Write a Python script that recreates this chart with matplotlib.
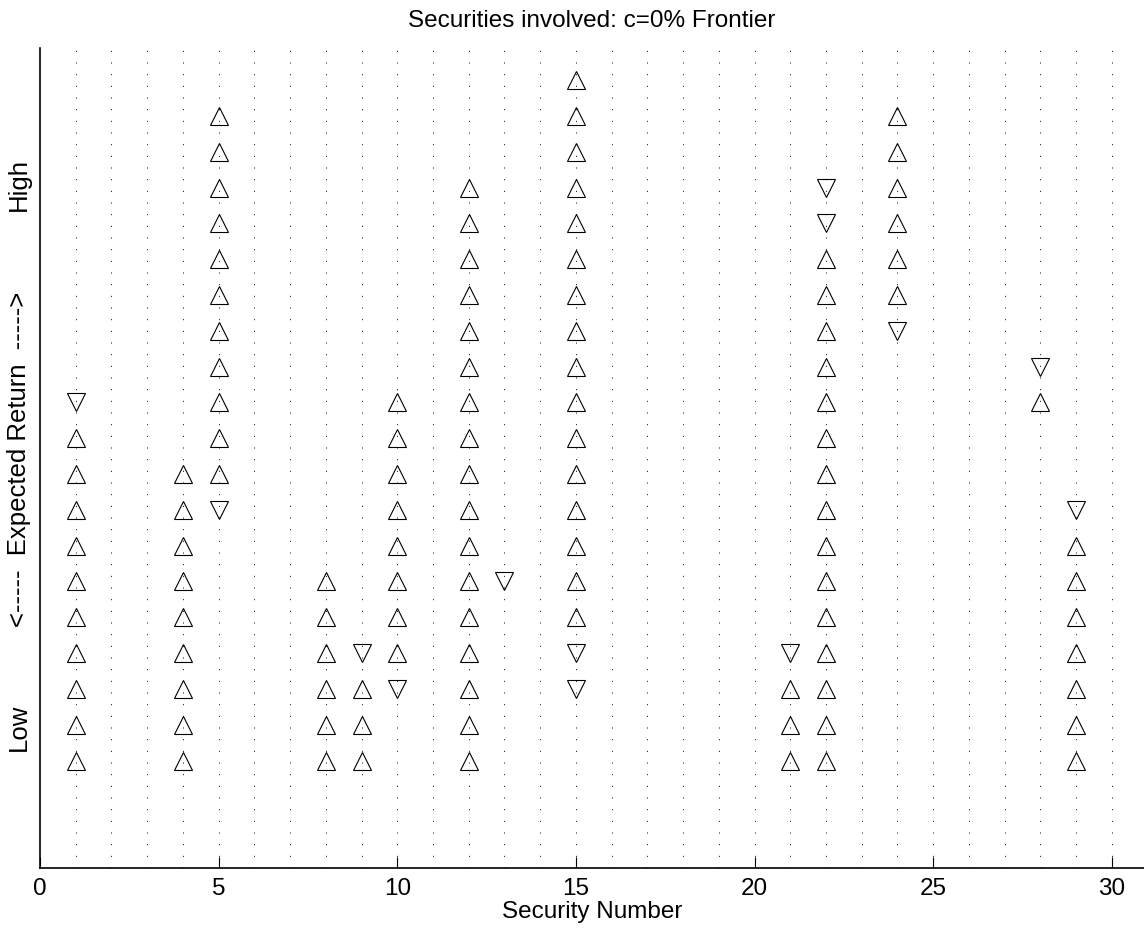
import matplotlib
matplotlib.use("Agg")
import matplotlib.pyplot as plt

# security numbers that appear on the frontier
securities = [1, 4, 5, 8, 9, 10, 12, 13, 15, 21, 22, 24, 28, 29]

# return levels (row index) where the weight is increasing / decreasing
up_levels = [
    [1, 2, 3, 4, 5, 6, 7, 8, 9, 10],
    [1, 2, 3, 4, 5, 6, 7, 8, 9],
    [9, 10, 11, 12, 13, 14, 15, 16, 17, 18, 19],
    [1, 2, 3, 4, 5, 6],
    [1, 2, 3],
    [4, 5, 6, 7, 8, 9, 10, 11],
    [1, 2, 3, 4, 5, 6, 7, 8, 9, 10, 11, 12, 13, 14, 15, 16, 17],
    [],
    [5, 6, 7, 8, 9, 10, 11, 12, 13, 14, 15, 16, 17, 18, 19, 20],
    [1, 2, 3],
    [1, 2, 3, 4, 5, 6, 7, 8, 9, 10, 11, 12, 13, 14, 15],
    [14, 15, 16, 17, 18, 19],
    [11],
    [1, 2, 3, 4, 5, 6, 7],
]
down_levels = [
    [11],
    [],
    [8],
    [],
    [4],
    [3],
    [],
    [6],
    [3, 4],
    [4],
    [16, 17],
    [13],
    [12],
    [8],
]

n_securities = 30
xticks = [0, 5, 10, 15, 20, 25, 30]

plt.rcParams['font.family'] = ['Liberation Sans', 'DejaVu Sans']

fig = plt.figure(figsize=(11.44, 9.35), dpi=100)
ax = fig.add_axes([0.035, 0.0717, 0.965, 0.877])

# dotted guide line for every security
for i in range(1, n_securities + 1):
    ax.axvline(i, color="black", linewidth=0.7, linestyle=(0, (1, 11)), zorder=1)

ux, uy, dx, dy = [], [], [], []
for sec, ups, downs in zip(securities, up_levels, down_levels):
    ux += [sec] * len(ups)
    uy += ups
    dx += [sec] * len(downs)
    dy += downs

ax.plot(ux, uy, linestyle="none", marker="^", markersize=13, markerfacecolor="none",
        markeredgecolor="black", markeredgewidth=0.8, zorder=3)
ax.plot(dx, dy, linestyle="none", marker="v", markersize=13, markerfacecolor="none",
        markeredgecolor="black", markeredgewidth=0.8, zorder=3)

ax.set_xlim(0, 30.9)
ax.set_ylim(-2, 20.9)
ax.set_xticks(xticks)
ax.set_yticks([])
ax.tick_params(axis="x", direction="in", length=8, width=0.8, pad=7, labelsize=17.5)
ax.spines["top"].set_visible(False)
ax.spines["right"].set_visible(False)
ax.spines["left"].set_linewidth(1.2)
ax.spines["bottom"].set_linewidth(1.2)

ax.set_xlabel("Security Number", fontsize=17.5, labelpad=1)
ax.set_title("Securities involved: c=0% Frontier", fontsize=17.5, pad=15)

for ypos, label in [(0.172, "Low"), (0.498, "<-----  Expected Return  ----->"), (0.833, "High")]:
    ax.text(-0.019, ypos, label, transform=ax.transAxes, rotation=90,
            ha="center", va="center", fontsize=18.5)

fig.savefig("out.png", dpi=100)
